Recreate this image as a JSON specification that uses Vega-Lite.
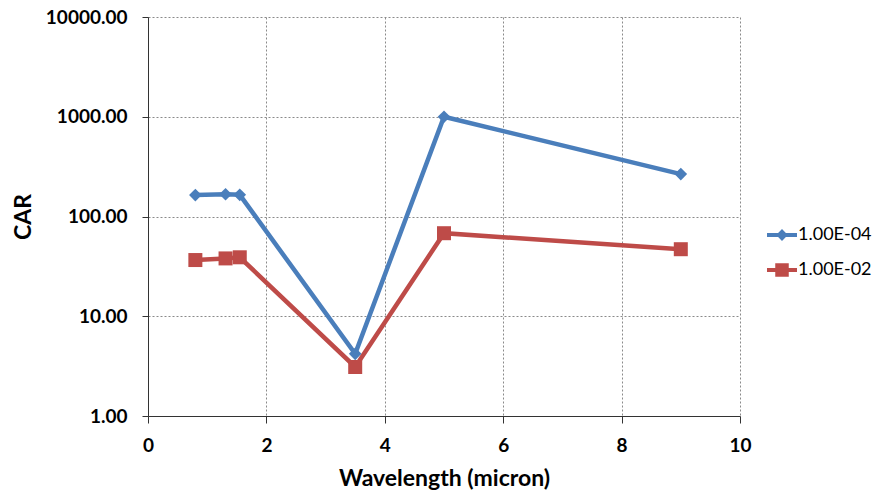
{
  "$schema": "https://vega.github.io/schema/vega-lite/v6.json",
  "width": 592,
  "height": 399,
  "autosize": "none",
  "padding": {"left": 148, "top": 17, "right": 140, "bottom": 77},
  "background": "white",
  "config": {
    "view": {"stroke": null},
    "font": "Lato",
    "axis": {
      "labelFont": "Lato", "labelFontWeight": "bold", "labelFontSize": 19, "labelColor": "#000",
      "titleFont": "Lato", "titleFontWeight": "bold", "titleFontSize": 23, "titleColor": "#000",
      "domainColor": "#333", "tickColor": "#333", "tickSize": 7,
      "gridColor": "#8a8a8a", "gridDash": [2, 2], "gridWidth": 1
    }
  },
  "data": {
    "values": [
      {"w": 0.8, "car": 164, "series": "1.00E-04"},
      {"w": 1.31, "car": 167, "series": "1.00E-04"},
      {"w": 1.55, "car": 165, "series": "1.00E-04"},
      {"w": 3.5, "car": 4.2, "series": "1.00E-04"},
      {"w": 5.0, "car": 1000, "series": "1.00E-04"},
      {"w": 9.0, "car": 266, "series": "1.00E-04"},
      {"w": 0.8, "car": 36.6, "series": "1.00E-02"},
      {"w": 1.31, "car": 38, "series": "1.00E-02"},
      {"w": 1.55, "car": 39, "series": "1.00E-02"},
      {"w": 3.5, "car": 3.1, "series": "1.00E-02"},
      {"w": 5.0, "car": 68, "series": "1.00E-02"},
      {"w": 9.0, "car": 47, "series": "1.00E-02"}
    ]
  },
  "encoding": {
    "x": {
      "field": "w", "type": "quantitative",
      "scale": {"domain": [0, 10], "nice": false},
      "axis": {"values": [0, 2, 4, 6, 8, 10], "title": "Wavelength (micron)", "titlePadding": 12, "labelPadding": 13, "labelFlush": false}
    },
    "y": {
      "field": "car", "type": "quantitative",
      "scale": {"type": "log", "domain": [1, 10000], "nice": false},
      "axis": {"values": [1, 10, 100, 1000, 10000], "format": ".2f", "title": "CAR", "titlePadding": 10, "labelPadding": 15, "tickSize": 6}
    },
    "color": {
      "field": "series", "type": "nominal",
      "scale": {"domain": ["1.00E-04", "1.00E-02"], "range": ["#4A7EBB", "#BE4B48"]},
      "legend": {
        "title": null, "orient": "none", "legendX": 619, "legendY": 203,
        "padding": 0, "symbolSize": 900, "rowPadding": 11, "labelOffset": 1,
        "labelFont": "Lato", "labelFontSize": 18, "labelColor": "#000",
        "symbolStrokeWidth": 0,
        "encode": {
          "symbols": {
            "update": {
              "shape": {"signal": "datum.value === '1.00E-04' ? 'M-1,-0.14H-0.26L0,-0.4L0.26,-0.14H1V0.14H0.26L0,0.4L-0.26,0.14H-1Z' : 'M-1,-0.14H-0.45V-0.45H0.45V-0.14H1V0.14H0.45V0.45H-0.45V0.14H-1Z'"},
              "fill": {"signal": "datum.value === '1.00E-04' ? '#4A7EBB' : '#BE4B48'"},
              "fillOpacity": {"value": 1},
              "size": {"value": 900},
              "strokeWidth": {"value": 0}
            }
          }
        }
      }
    }
  },
  "layer": [
    {"mark": {"type": "line", "strokeWidth": 4.5}},
    {
      "transform": [{"filter": "datum.series === '1.00E-04'"}],
      "mark": {"type": "point", "filled": true, "opacity": 1, "shape": "diamond", "size": 160}
    },
    {
      "transform": [{"filter": "datum.series === '1.00E-02'"}],
      "mark": {"type": "point", "filled": true, "opacity": 1, "shape": "square", "size": 196}
    }
  ]
}
